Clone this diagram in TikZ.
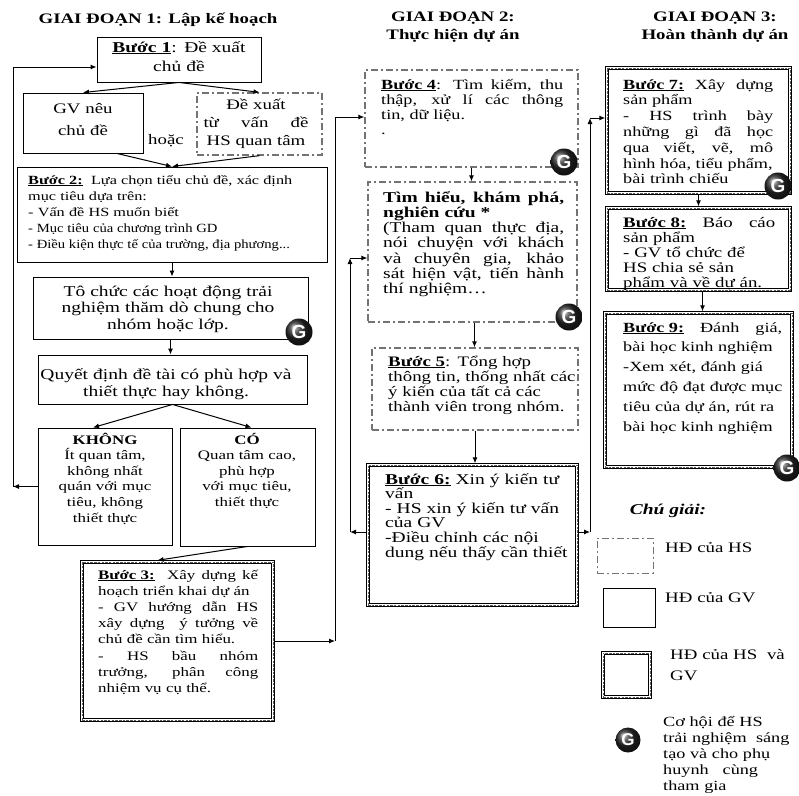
\documentclass[tikz,border=0pt]{standalone}
\usepackage{graphicx}
\usepackage{fontspec}
\setmainfont{Liberation Serif}[FakeStretch=1.3]
\newfontfamily\gfont{Liberation Sans}
\usetikzlibrary{arrows.meta}
\newcommand\fsz[2]{\fontsize{#1}{#2}\selectfont}
\def\tw{100pt}
\newcommand\jl[1]{\makebox[\tw][s]{\spaceskip=0pt\xspaceskip=0pt #1}}
\newcommand\bu[1]{\underline{\textbf{#1}}}
\newcommand\sq[1]{\scalebox{0.9}[1]{#1}}
\begin{document}
\begin{tikzpicture}[x=1pt,y=-1pt,
  gvbox/.style={draw=black, line width=0.9pt, inner sep=0pt},
  hsbox/.style={draw=black!55, line width=1.3pt, dash pattern=on 7pt off 3pt on 2pt off 3pt, inner sep=0pt},
  bothbox/.style={draw=black, line width=3.4pt, inner sep=0pt,
     postaction={draw=white, line width=2pt},
     postaction={draw=black!65, line width=0.9pt, dash pattern=on 2.5pt off 1.2pt}},
  txt/.style={inner sep=0pt, align=left, anchor=base west, text width=260pt},
  ctxt/.style={inner sep=0pt, align=center, anchor=base},
  jw/.style={execute at begin node={\def\tw{#1}}},
  arr/.style={-{Latex[length=6pt,width=5pt]}, line width=1pt},
  gicon/.style={circle, inner sep=0pt, minimum size=27pt, ball color=black!85, text=white, font=\gfont\bfseries\fsz{19}{19}},
  title/.style={inner sep=0pt, align=center, anchor=base, font=\bfseries\fsz{14.5}{17}},
]
\fill[white] (0,0) rectangle (799,795);
\useasboundingbox (0,0) rectangle (799,795);

% titles
\node[title] (t1) at (158,23) {GIAI ĐOẠN 1: Lập kế hoạch};
\node[title] (t2a) at (453,21) {GIAI ĐOẠN 2:};
\node[title] (t2b) at (453,39) {Thực hiện dự án};
\node[title] (t3a) at (715,21) {GIAI ĐOẠN 3:};
\node[title] (t3b) at (715,39) {Hoàn thành dự án};

% ---------- stage 1 ----------
\node[gvbox, minimum width=164pt, minimum height=45pt] (b1) at (179,59.5) {};
\node[ctxt, text width=160pt, font=\fsz{15}{19}] (b1t) at (179,52) {\bu{Bước 1}: Đề xuất\\ chủ đề};

\node[gvbox, minimum width=120pt, minimum height=60pt] (gv) at (83,123) {};
\node[ctxt, text width=110pt, font=\fsz{14.5}{22}] (gvt) at (83,113) {GV nêu\\ chủ đề};

\node[hsbox, minimum width=125pt, minimum height=62pt] (dx) at (259.5,124) {};
\node[ctxt, text width=105pt, jw=105pt, font=\fsz{14.5}{18}] (dxt) at (256,109) {Đề xuất\\ \jl{từ vấn đề}\\ HS quan tâm};

\node[inner sep=0pt, anchor=base, font=\fsz{14.5}{17}] (hoac) at (166,144) {hoặc};

\node[gvbox, minimum width=310pt, minimum height=95pt] (b2) at (172,214.5) {};
\node[txt, text width=300pt, font=\fsz{12.5}{16.2}] (b2t) at (28,184) {\bu{Bước 2:}\ \ Lựa chọn tiểu chủ đề, xác định\\
mục tiêu dựa trên:\\
- Vấn đề HS muốn biết\\
\sq{- Mục tiêu của chương trình GD}\\
\sq{- Điều kiện thực tế của trường, địa phương...}};

\node[gvbox, minimum width=275pt, minimum height=62pt] (tc) at (170.5,308) {};
\node[ctxt, text width=265pt, font=\fsz{15}{16.5}] (tct) at (168,296) {Tô chức các hoạt động trải\\ nghiệm thăm dò chung cho\\ nhóm hoặc lớp.};

\node[gvbox, minimum width=269pt, minimum height=49pt] (qd) at (172.5,379.5) {};
\node[ctxt, text width=265pt, font=\fsz{15}{17}] (qdt) at (166,379) {Quyết định đề tài có phù hợp và\\ thiết thực hay không.};

\node[gvbox, minimum width=134pt, minimum height=117pt] (kh) at (105,486.5) {};
\node[ctxt, text width=125pt, font=\fsz{13}{15.6}] (kht) at (105,444) {\textbf{KHÔNG}\\ Ít quan tâm,\\ không nhất\\ quán với mục\\ tiêu, không\\ thiết thực};

\node[gvbox, minimum width=135pt, minimum height=118pt] (co) at (247.5,487) {};
\node[ctxt, text width=125pt, font=\fsz{13}{15.6}] (cot) at (247,444) {\textbf{CÓ}\\ Quan tâm cao,\\ phù hợp\\ với mục tiêu,\\ thiết thực};

\node[bothbox, minimum width=191pt, minimum height=158pt] (b3) at (177.5,641) {};
\node[txt, jw=160pt, font=\fsz{13}{16.2}] (b3t) at (98,579) {\jl{\bu{Bước 3:}\ \ Xây dựng kế}\\
hoạch triển khai dự án\\
\jl{- GV hướng dẫn HS}\\
\jl{xây dựng \ ý tưởng về}\\
chủ đề cần tìm hiểu.\\
\jl{- HS bầu nhóm}\\
\jl{trưởng, phân công}\\
nhiệm vụ cụ thể.};

% ---------- stage 2 ----------
\node[hsbox, minimum width=213pt, minimum height=97pt] (b4) at (471.5,118.5) {};
\node[txt, jw=182pt, font=\fsz{14}{15}] (b4t) at (381,89) {\jl{\bu{Bước 4}: Tìm kiếm, thu}\\
\jl{thập, xử lí các thông}\\
tin, dữ liệu.\\
.};

\node[hsbox, minimum width=209pt, minimum height=140pt] (th) at (472.5,252) {};
\node[txt, jw=181pt, font=\fsz{15}{15.3}] (tht) at (383,202) {\jl{\textbf{Tìm hiểu, khám phá,}}\\
\textbf{nghiên cứu *}\\
\jl{(Tham quan thực địa,}\\
\jl{nói chuyện với khách}\\
\jl{và chuyên gia, khảo}\\
\jl{sát hiện vật, tiến hành}\\
thí nghiệm…};

\node[hsbox, minimum width=206pt, minimum height=82pt] (b5) at (475,389) {};
\node[txt, font=\fsz{14.5}{15}] (b5t) at (388,366) {\bu{Bước 5}: Tổng hợp\\
thông tin, thống nhất các\\
ý kiến của tất cả các\\
thành viên trong nhóm.};

\node[bothbox, minimum width=209pt, minimum height=140pt] (b6) at (472.5,535) {};
\node[txt, font=\fsz{15}{14.6}] (b6t) at (385,484) {\bu{Bước 6:} Xin ý kiến tư\\
vấn\\
- HS xin ý kiến tư vấn\\
của GV\\
-Điều chỉnh các nội\\
dung nếu thấy cần thiết};

% ---------- stage 3 ----------
\node[bothbox, minimum width=183pt, minimum height=125pt] (b7) at (698.5,130.5) {};
\node[txt, jw=150pt, font=\fsz{14}{15.8}] (b7t) at (623,89) {\jl{\bu{Bước 7:} Xây dựng}\\
sản phẩm\\
\jl{- \ HS \ trình \ bày}\\
\jl{những gì đã học}\\
\jl{qua viết, vẽ, mô}\\
hình hóa, tiểu phẩm,\\
bài trình chiếu};

\node[bothbox, minimum width=183pt, minimum height=82pt] (b8) at (698.5,249) {};
\node[txt, jw=152pt, font=\fsz{14.5}{15}] (b8t) at (623,227) {\jl{\bu{Bước 8:} Báo cáo}\\
sản phẩm\\
- GV tổ chức để\\
HS chia sẻ sản\\
phẩm và về dự án.};

\node[bothbox, minimum width=187pt, minimum height=154pt] (b9) at (698.5,390) {};
\node[txt, jw=159pt, font=\fsz{14}{19.8}] (b9t) at (623,332) {\jl{\bu{Bước 9:} Đánh giá,}\\
bài học kinh nghiệm\\
-Xem xét, đánh giá\\
mức độ đạt được mục\\
tiêu của dự án, rút ra\\
bài học kinh nghiệm};

% G icons
\node[gicon] (g1) at (299,332) {G};
\node[gicon] (g2) at (564,162) {G};
\node[gicon] (g3) at (569,317) {G};
\node[gicon] (g4) at (778,186) {G};
\node[gicon] (g5) at (787,468) {G};

% ---------- connectors ----------
\draw[arr] (b1.south) -- (gv.north);
\draw[arr] (b1.south) -- (dx.north);
\draw[arr] ([xshift=34pt]gv.south) -- (b2.north);
\draw[arr] (dx.south) -- (b2.north);
\draw[arr] (b2.south) -- (b2.south |- tc.north);
\draw[arr] (tc.south) -- (tc.south |- qd.north);
\draw[arr] (qd.south) -- ([xshift=-12pt]kh.north);
\draw[arr] (qd.south) -- ([xshift=4pt]co.north);
\draw[arr] (co.south) -- ([xshift=-20pt]b3.north);

\coordinate (L1) at (13,486.5);
\coordinate (L2) at (13,67);
\draw[arr] (kh.west) -- (L1);
\draw[arr] (L1) -- (L2) -- (L2 -| b1.west);

\coordinate (M1) at (335,641);
\coordinate (M2) at (335,117);
\draw[arr] (b3.east) -- (M1);
\draw[arr] (M1) -- (M2) -- (M2 -| b4.west);

\draw[arr] (b4.south) -- (b4.south |- th.north);
\draw[arr] ([xshift=2pt]th.south) -- ([xshift=2pt]th.south |- b5.north);
\draw[arr] (b5.south) -- (b5.south |- b6.north);

\coordinate (N1) at (350,532);
\coordinate (N2) at (350,258);
\draw[arr] (N1 -| b6.west) -- (N1);
\draw[arr] (N1) -- (N2);
\draw[arr] (N2) -- (N2 -| th.west);

\coordinate (R1) at (590,532);
\coordinate (R2) at (590,118);
\draw[arr] (R1 -| b6.east) -- (R1);
\draw[arr] (R1) -- (R2);
\draw[arr] (R2) -- (R2 -| b7.west);

\draw[arr] (b7.south) -- (b7.south |- b8.north);
\draw[arr] ([xshift=4pt]b8.south) -- ([xshift=4pt]b8.south |- b9.north);

% ---------- legend ----------
\node[inner sep=0pt, anchor=base, font=\bfseries\itshape\fsz{15}{17}] (lg) at (668,514) {Chú giải:};
\node[hsbox, line width=1pt, minimum width=56pt, minimum height=35pt] (l1) at (625,555.5) {};
\node[txt, font=\fsz{14.5}{17}] (l1t) at (665,552) {HĐ của HS};
\node[gvbox, minimum width=52pt, minimum height=39pt] (l2) at (629,607.5) {};
\node[txt, font=\fsz{14.5}{17}] (l2t) at (665,602) {HĐ của GV};
\node[bothbox, minimum width=47pt, minimum height=44pt] (l3) at (626.5,675) {};
\node[txt, font=\fsz{14.5}{21}] (l3t) at (670,659) {HĐ của HS \ và\\ GV};
\node[gicon, minimum size=25pt, font=\gfont\bfseries\fsz{17}{17}] (g6) at (628,740) {G};
\node[txt, font=\fsz{14}{16}] (l4t) at (663,726) {Cơ hội để HS\\
trải nghiệm \ sáng\\
tạo và cho phụ\\
huynh \ \ cùng\\
tham gia};
\end{tikzpicture}
\end{document}
